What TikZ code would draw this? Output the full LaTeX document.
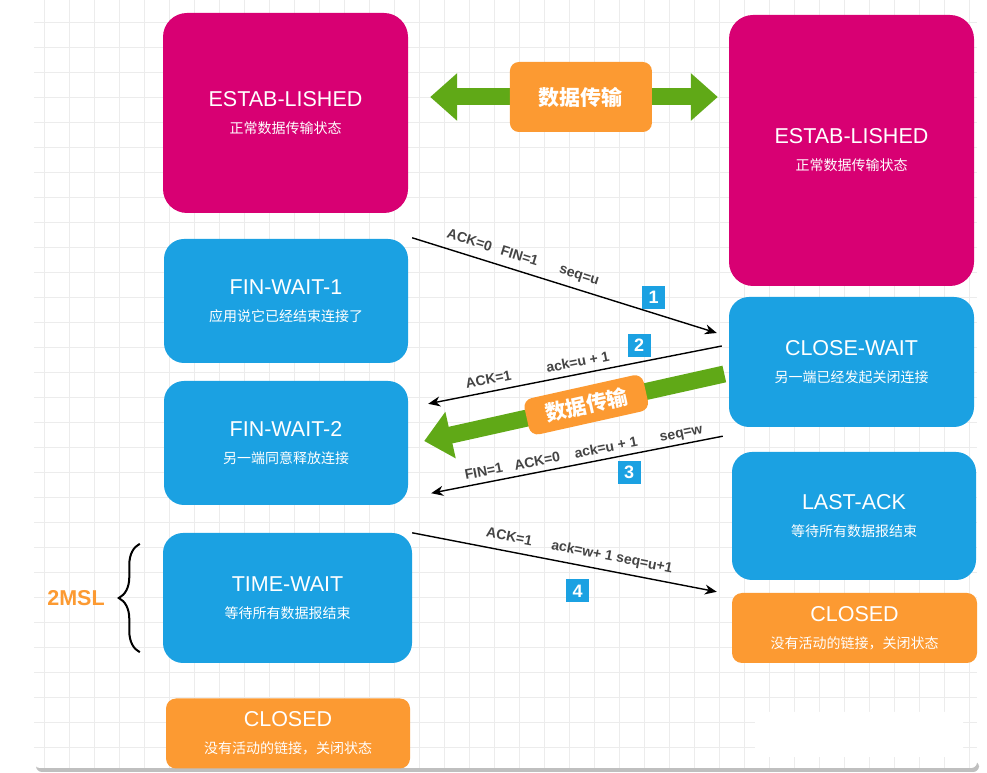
\documentclass[tikz,border=0pt]{standalone}
\usepackage{fontspec}
\setmainfont{Liberation Sans}
\newfontfamily\cjk{Noto Sans CJK SC}
\usepackage{xcolor}
\usetikzlibrary{calc,arrows.meta,positioning,decorations.pathreplacing}
\definecolor{stmagenta}{RGB}{216,0,115}
\definecolor{stblue}{RGB}{27,161,226}
\definecolor{storange}{RGB}{252,154,50}
\definecolor{stgreen}{RGB}{96,169,23}
\definecolor{msggray}{RGB}{68,68,68}
\definecolor{gridgray}{RGB}{236,236,236}
\newcommand{\sttitle}[1]{{\normalfont\fontsize{21.5}{27}\selectfont #1}}

\begin{document}
\begin{tikzpicture}[x=1pt,y=1pt,>={Stealth[length=12pt,width=10pt]},
    state/.style={fill=stblue,text=white,rounded corners=20pt,inner sep=0pt,align=center,
       minimum width=244pt,minimum height=124pt,font=\cjk\fontsize{14}{27}\selectfont},
    estab/.style={state,fill=stmagenta,rounded corners=24pt,minimum width=245pt},
    closed/.style={state,fill=storange,rounded corners=10pt,minimum height=70pt},
    msgline/.style={line width=1.4pt,black},
    msg/.style={sloped,above=4.5pt,inner sep=2pt,text=msggray,font=\bfseries\fontsize{14}{17}\selectfont},
    flow/.style={stgreen,line width=17pt,>={Triangle[length=27pt,width=46pt]}},
    dtbox/.style={fill=storange,text=white,rounded corners=9pt,inner sep=0pt,
       font=\cjk\bfseries\fontsize{21}{21}\selectfont},
    badge/.style={fill=stblue,text=white,inner sep=0pt,minimum size=23pt,
       font=\bfseries\fontsize{18}{18}\selectfont}]
    \useasboundingbox (0,0) rectangle (987,773);
    \fill[white] (0,0) rectangle (987,773);
    \fill[black!25,rounded corners=6pt] (36,1) rectangle (979,12);
    \fill[white,rounded corners=6pt] (34,5) rectangle (977,790);
    \foreach \gx in {44,69,...,969}{
       \draw[gridgray,line width=0.8pt] (\gx,5) -- (\gx,773);}
    \foreach \gy in {26,51,...,751}{
       \draw[gridgray,line width=0.8pt] (34,\gy) -- (977,\gy);}
    \fill[white,rounded corners=8pt] (755,16) rectangle (963,61);

    \node[estab,minimum height=200pt] (estL) at (285.5,660) {\sttitle{ESTAB-LISHED}\\正常数据传输状态};
    \node[estab,minimum height=271pt] (estR) at (851.5,622.5) {\sttitle{ESTAB-LISHED}\\正常数据传输状态};
    \node[state] (fw1) at (286,472) {\sttitle{FIN-WAIT-1}\\应用说它已经结束连接了};
    \node[state] (fw2) at (286,330) {\sttitle{FIN-WAIT-2}\\另一端同意释放连接};
    \node[state,minimum width=249pt,minimum height=130pt] (tw) at (287.5,175) {\sttitle{TIME-WAIT}\\等待所有数据报结束};
    \node[closed] (clL) at (288,39.5) {\sttitle{CLOSED}\\没有活动的链接，关闭状态};
    \node[state,minimum width=245pt,minimum height=130pt] (cw) at (851.5,411) {\sttitle{CLOSE-WAIT}\\另一端已经发起关闭连接};
    \node[state,minimum height=128pt] (la) at (854,257) {\sttitle{LAST-ACK}\\等待所有数据报结束};
    \node[closed,minimum width=245pt] (clR) at (854.5,145) {\sttitle{CLOSED}\\没有活动的链接，关闭状态};

    \draw[flow,<->] ([shift={(22pt,16pt)}]estL.east) -- ([shift={(-11pt,53.5pt)}]estR.west)
       node[dtbox,pos=0.524,minimum width=142pt,minimum height=70pt] (dt1) {数据传输};
    \draw[flow,->] ([shift={(-4.5pt,-12pt)}]cw.west) -- ([shift={(16pt,2pt)}]fw2.east)
       node[dtbox,sloped,pos=0.46,minimum width=122pt,minimum height=37pt] (dt2) {数据传输};

    \draw[msgline,->] ([shift={(4pt,1pt)}]fw1.north east) -- ([shift={(-12pt,29pt)}]cw.west)
       node[msg,pos=0.35] {ACK=0\hspace{10pt}FIN=1\hspace{23pt}seq=u};
    \draw[msgline,<-] ([shift={(20pt,-23pt)}]fw2.north east) -- ([shift={(-7pt,16pt)}]cw.west)
       node[msg,pos=0.38] {ACK=1\hspace{36pt}ack=u + 1};
    \draw[msgline,<-] ([shift={(23pt,12pt)}]fw2.south east) -- ([shift={(-6pt,-9pt)}]cw.south west)
       node[msg,pos=0.53,above=1pt] {FIN=1\hspace{12pt}ACK=0\hspace{15pt}ack=u + 1\hspace{23pt}seq=w};
    \draw[msgline,->] (tw.north east) -- ([shift={(-15pt,1pt)}]clR.north west)
       node[msg,pos=0.54] {ACK=1\hspace{20pt}ack=w+ 1 seq=u+1};

    \node[badge] (b1) at (653.5,475.5) {1};
    \node[badge] (b2) at (639,427.5) {2};
    \node[badge] (b3) at (629,300.5) {3};
    \node[badge] (b4) at (577.5,182) {4};

    \draw[line width=2pt,decorate,decoration={brace,amplitude=21pt}]
       ([shift={(-23pt,11pt)}]tw.south west) -- ([shift={(-23pt,-11pt)}]tw.north west);
    \node[text=storange,font=\bfseries\fontsize{21.5}{24}\selectfont] (msl) at (76,175) {2MSL};
\end{tikzpicture}
\end{document}
